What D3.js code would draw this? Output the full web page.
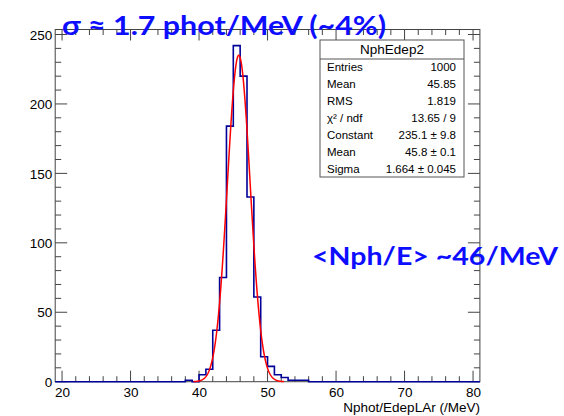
<!DOCTYPE html>
<html>
<head>
<meta charset="utf-8">
<script src="https://cdn.jsdelivr.net/npm/d3@7"></script>
<style>
  html, body { margin: 0; padding: 0; background: #fff; }
  svg { display: block; }
</style>
</head>
<body>
<script>
// ---------------- data ----------------
const histTitle = "NphEdep2";
const xLabel = "Nphot/EdepLAr (/MeV)";
const xRange = [19, 81];
const binWidth = 1;
// counts per bin, bin i spans [19+i, 20+i]
const counts = [
  0,0,0,0,0,0,0,0,0,0,      // 19-28
  0,0,0,0,0,0,0,0,0,1,      // 29-38
  0,5,9,37,75,184,242,220,133,61, // 39-48
  18,11,5,3,1,1,1,0,0,0,    // 49-58
  0,0                       // 59-60 ... 
];
// pad remaining bins with zero up to 81
while (counts.length < (xRange[1] - xRange[0]) / binWidth) counts.push(0);

const yMax = 253.6;
const xTicks = [20, 30, 40, 50, 60, 70, 80];
const yTicks = [0, 50, 100, 150, 200, 250];
const fitParams = { constant: 235.1, mean: 45.8, sigma: 1.664 };
const fitDrawRange = [39.2, 52.4];
const statsLabels = ["Entries", "Mean", "RMS", "\u03c7\u00b2 / ndf", "Constant", "Mean", "Sigma"];
const statsValues = ["1000", "45.85", "1.819", "13.65 / 9", "235.1 \u00b1 9.8", "45.8 \u00b1 0.1", "1.664 \u00b1 0.045"];
const annotTop = "\u03c3 \u2248 1.7 phot/MeV (~4%)";
const annotRight = "<Nph/E> ~46/MeV";

// ---------------- layout ----------------
const W = 564, H = 416;
const svg = d3.select("body").append("svg").attr("width", W).attr("height", H);

const x = d3.scaleLinear().domain(xRange).range([55.2, 479.9]);
const y = d3.scaleLinear().domain([0, yMax]).range([381.7, 29.5]);

const axisColor = "#444";
const fontAx = "'Liberation Sans', Arial, Helvetica, sans-serif";

// frame
svg.append("rect")
  .attr("x", x(xRange[0])).attr("y", y(yMax))
  .attr("width", x(xRange[1]) - x(xRange[0]))
  .attr("height", y(0) - y(yMax))
  .attr("fill", "none").attr("stroke", axisColor).attr("stroke-width", 1);

// ticks (ROOT style: inward, both sides)
const xMinor = d3.range(20, 81, 2);
const yMinor = d3.range(0, 251, 10);
const gt = svg.append("g").attr("stroke", axisColor).attr("stroke-width", 1);
xMinor.forEach(v => {
  const major = v % 10 === 0;
  const L = major ? 11 : 5.5;
  gt.append("line").attr("x1", x(v)).attr("x2", x(v)).attr("y1", y(0)).attr("y2", y(0) - L);
  gt.append("line").attr("x1", x(v)).attr("x2", x(v)).attr("y1", y(yMax)).attr("y2", y(yMax) + L);
});
yMinor.forEach(v => {
  const major = v % 50 === 0;
  const L = major ? 12 : 6;
  gt.append("line").attr("x1", x(xRange[0])).attr("x2", x(xRange[0]) + L).attr("y1", y(v)).attr("y2", y(v));
  gt.append("line").attr("x1", x(xRange[1])).attr("x2", x(xRange[1]) - L).attr("y1", y(v)).attr("y2", y(v));
});

// tick labels
const xAxis = d3.axisBottom(x).tickValues(xTicks).tickSize(0).tickPadding(0).tickFormat(d3.format("d"));
const gx = svg.append("g").attr("transform", `translate(0,${y(0) + 4})`).call(xAxis);
gx.select(".domain").remove();
gx.selectAll("text").attr("font-family", fontAx).attr("font-size", 13.5).attr("fill", "#000").attr("dy", "0.85em");

const yAxis = d3.axisLeft(y).tickValues(yTicks).tickSize(0).tickPadding(0).tickFormat(d3.format("d"));
const gy = svg.append("g").attr("transform", `translate(${x(xRange[0]) - 3},0)`).call(yAxis);
gy.select(".domain").remove();
gy.selectAll("text").attr("font-family", fontAx).attr("font-size", 13.5).attr("fill", "#000").attr("dy", "0.35em");

// x title
svg.append("text").attr("x", x(xRange[1])).attr("y", 412)
  .attr("text-anchor", "end").attr("font-family", fontAx).attr("font-size", 13.5)
  .attr("fill", "#000").text(xLabel);

// histogram step path
const pts = [];
pts.push([xRange[0], 0]);
counts.forEach((c, i) => {
  const lo = xRange[0] + i * binWidth;
  pts.push([lo, c]);
  pts.push([lo + binWidth, c]);
});
pts.push([xRange[1], 0]);
svg.append("path")
  .attr("d", d3.line().x(d => x(d[0])).y(d => y(d[1]))(pts))
  .attr("fill", "none").attr("stroke", "#000099").attr("stroke-width", 1.6);

// gaussian fit curve
const gauss = v => fitParams.constant * Math.exp(-0.5 * Math.pow((v - fitParams.mean) / fitParams.sigma, 2));
const fitPts = d3.range(fitDrawRange[0], fitDrawRange[1] + 1e-9, 0.05).map(v => [v, gauss(v)]);
svg.append("path")
  .attr("d", d3.line().x(d => x(d[0])).y(d => y(d[1])).curve(d3.curveLinear)(fitPts))
  .attr("fill", "none").attr("stroke", "#ff0000").attr("stroke-width", 1.5);

// stats box
const bx = 320, by = 40, bw = 144, bh = 137;
const sb = svg.append("g");
sb.append("rect").attr("x", bx).attr("y", by).attr("width", bw).attr("height", bh)
  .attr("fill", "#fff").attr("stroke", "#555").attr("stroke-width", 1);
sb.append("line").attr("x1", bx).attr("x2", bx + bw).attr("y1", 59).attr("y2", 59)
  .attr("stroke", "#555").attr("stroke-width", 1);
sb.append("text").attr("x", bx + bw / 2).attr("y", 49).attr("dy", "0.35em")
  .attr("text-anchor", "middle").attr("font-family", fontAx).attr("font-size", 13.5)
  .attr("fill", "#000").text(histTitle);
statsLabels.forEach((lab, i) => {
  const ry = 67 + i * 17.0;
  sb.append("text").attr("x", bx + 7).attr("y", ry).attr("dy", "0.35em")
    .attr("font-family", fontAx).attr("font-size", 11.5).attr("fill", "#000").text(lab);
  sb.append("text").attr("x", bx + bw - 8).attr("y", ry).attr("dy", "0.35em")
    .attr("text-anchor", "end")
    .attr("font-family", fontAx).attr("font-size", 11.5).attr("fill", "#000").text(statsValues[i]);
});

// annotations
const fontAnn = "Lato, 'Open Sans', sans-serif";
svg.append("text").attr("x", 62).attr("y", 35)
  .attr("font-family", fontAnn).attr("font-weight", "bold").attr("font-size", 27)
  .attr("textLength", 324).attr("lengthAdjust", "spacingAndGlyphs")
  .attr("fill", "#0d0dff").text(annotTop);
svg.append("text").attr("x", 312).attr("y", 265)
  .attr("font-family", fontAnn).attr("font-weight", "bold").attr("font-size", 25)
  .attr("textLength", 246).attr("lengthAdjust", "spacingAndGlyphs")
  .attr("fill", "#0d0dff").text(annotRight);
</script>
</body>
</html>
